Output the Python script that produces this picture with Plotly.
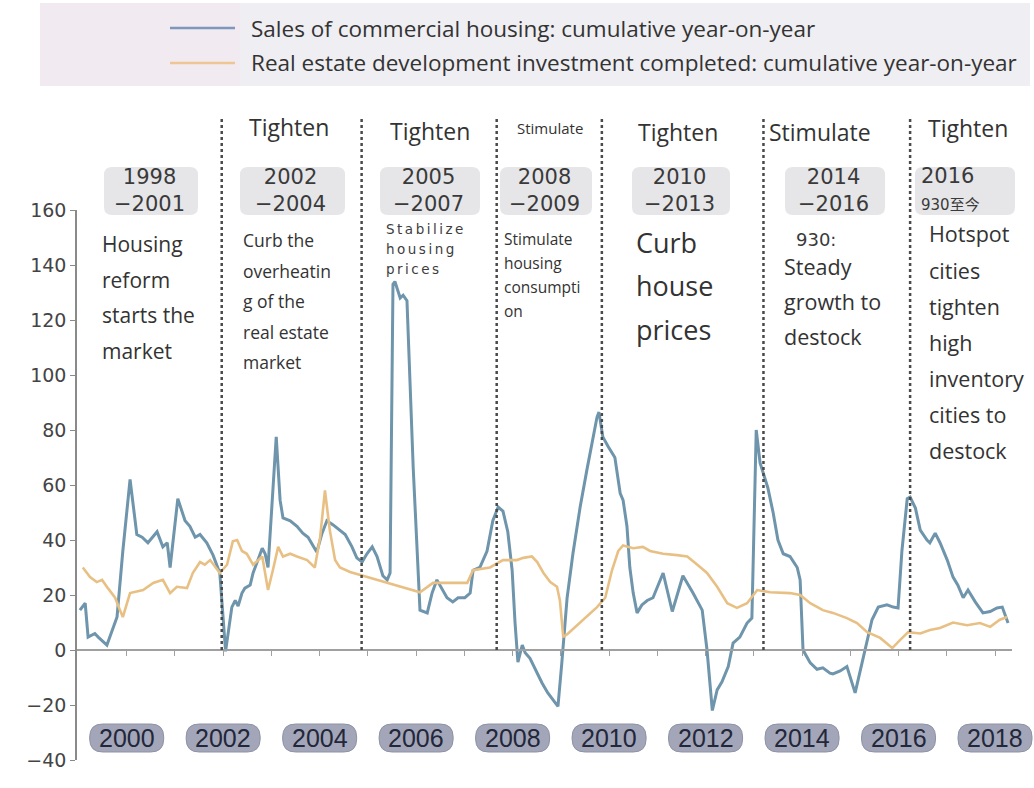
import plotly.graph_objects as go

# Cumulative year-on-year growth (%), sampled at turning points (decimal years)
sales_t = [1999.03, 1999.14, 1999.20, 1999.34, 1999.41, 1999.59, 1999.80, 1999.86, 1999.92,
           2000.07, 2000.21, 2000.32, 2000.44, 2000.63, 2000.75, 2000.84, 2000.90, 2001.06,
           2001.21, 2001.31, 2001.42, 2001.52, 2001.66, 2001.79, 2001.93, 2002.05, 2002.18,
           2002.25, 2002.31, 2002.39, 2002.45, 2002.56, 2002.62, 2002.72, 2002.81, 2002.87,
           2002.93, 2003.10, 2003.18, 2003.24, 2003.39, 2003.53, 2003.65, 2003.76, 2003.86,
           2003.94, 2004.05, 2004.15, 2004.28, 2004.42, 2004.53, 2004.67, 2004.77, 2004.88,
           2004.98, 2005.09, 2005.19, 2005.31, 2005.40, 2005.46, 2005.52, 2005.56, 2005.67,
           2005.73, 2005.81, 2005.94, 2006.08, 2006.23, 2006.33, 2006.43, 2006.54, 2006.64,
           2006.76, 2006.87, 2007.01, 2007.12, 2007.18, 2007.32, 2007.47, 2007.59, 2007.70,
           2007.80, 2007.90, 2007.99, 2008.05, 2008.11, 2008.20, 2008.26, 2008.36, 2008.47,
           2008.61, 2008.73, 2008.88, 2008.94, 2009.02, 2009.13, 2009.25, 2009.40, 2009.54,
           2009.65, 2009.75, 2009.79, 2009.87, 2009.98, 2010.12, 2010.23, 2010.29, 2010.37,
           2010.43, 2010.50, 2010.58, 2010.68, 2010.79, 2010.91, 2011.01, 2011.12, 2011.31,
           2011.53, 2011.74, 2011.93, 2012.03, 2012.14, 2012.24, 2012.34, 2012.47, 2012.57,
           2012.71, 2012.86, 2012.96, 2013.05, 2013.13, 2013.23, 2013.29, 2013.40, 2013.50,
           2013.61, 2013.75, 2013.90, 2013.96, 2014.02, 2014.17, 2014.31, 2014.43, 2014.58,
           2014.64, 2014.79, 2014.93, 2015.10, 2015.24, 2015.35, 2015.45, 2015.58, 2015.76,
           2015.89, 2015.99, 2016.07, 2016.18, 2016.24, 2016.35, 2016.45, 2016.59, 2016.65,
           2016.76, 2016.86, 2017.01, 2017.13, 2017.23, 2017.34, 2017.44, 2017.59, 2017.75,
           2017.90, 2018.04, 2018.15, 2018.27]
sales_v = [14.5, 17, 4.7, 6, 4.7, 1.8, 12, 24, 36,
           62, 42, 41, 39, 43, 37.5, 39, 30, 55,
           47, 45, 41, 42, 39, 34.5, 28, -0.5, 15.6,
           18, 16, 20.7, 22.5, 23.6, 28, 32.7, 37, 35,
           30, 77.5, 54.5, 48, 47, 45, 42.5, 41, 38,
           35.6, 42.5, 47, 45.5, 43.6, 42, 37.5, 33.5, 32,
           35, 37.5, 34, 27, 25.5, 28, 133, 134, 128,
           129, 127, 66, 14.5, 13.5, 20.7, 25.5, 22, 19,
           17.5, 19, 19, 20.7, 29, 30, 36, 47, 52,
           50.5, 43, 29, 10, -4.4, 1.8, -1, -3, -7,
           -12, -15.6, -19, -20.5, -4.7, 19, 35, 52, 65.5,
           75, 84.7, 86.5, 77.5, 74, 70, 57, 54.5, 45,
           30, 20.7, 13.5, 16.4, 18, 19, 23, 28, 14,
           27, 20.7, 14.5, 0, -22, -14.5, -11.6, -6, 2.5,
           4.7, 9.8, 11.6, 80, 68, 62, 59, 50, 40,
           35, 34, 30, 25.5, 0, -4.7, -7, -6.5, -8.4,
           -8.7, -7.6, -6, -15.6, -4.7, 3.6, 11, 15.6, 16.4,
           15.6, 15.3, 36, 55, 55.6, 51.6, 43.6, 40, 39,
           42.5, 39, 32.7, 26.5, 23.6, 19, 21.8, 17.5, 13.5,
           14, 15.3, 15.6, 9.8]

invest_t = [1999.09, 1999.24, 1999.38, 1999.49, 1999.61, 1999.76, 1999.86, 1999.92, 2000.07,
            2000.34, 2000.55, 2000.75, 2000.90, 2001.04, 2001.25, 2001.37, 2001.52, 2001.62,
            2001.73, 2001.93, 2002.08, 2002.20, 2002.29, 2002.39, 2002.49, 2002.62, 2002.81,
            2002.93, 2003.03, 2003.14, 2003.24, 2003.39, 2003.53, 2003.74, 2003.90, 2004.01,
            2004.11, 2004.21, 2004.32, 2004.42, 2004.63, 2004.90, 2005.19, 2005.40, 2005.67,
            2005.87, 2006.08, 2006.35, 2006.64, 2007.06, 2007.18, 2007.53, 2007.80, 2008.09,
            2008.22, 2008.40, 2008.51, 2008.64, 2008.78, 2008.92, 2008.98, 2009.05, 2009.15,
            2009.34, 2009.54, 2009.75, 2009.92, 2010.06, 2010.19, 2010.29, 2010.50, 2010.70,
            2010.85, 2011.12, 2011.41, 2011.62, 2011.83, 2012.03, 2012.24, 2012.45, 2012.65,
            2012.86, 2013.07, 2013.34, 2013.75, 2013.96, 2014.17, 2014.43, 2014.64, 2014.93,
            2015.14, 2015.35, 2015.62, 2015.87, 2016.03, 2016.20, 2016.45, 2016.65, 2016.86,
            2017.13, 2017.42, 2017.69, 2017.90, 2018.10, 2018.25]
invest_v = [30, 26.5, 24.7, 25.5, 22.5, 19, 14.5, 12, 20.7,
            21.8, 24.4, 25.5, 20.7, 23, 22.5, 28, 32, 31,
            32.7, 28, 31, 39.5, 40, 36, 35, 31, 34,
            21.8, 29, 37.5, 34, 35, 34, 32.7, 30, 41,
            58, 43.6, 32.7, 30, 28.4, 27, 25.5, 24.4, 23,
            22, 21, 24.4, 24.4, 24.4, 29, 30, 32.7, 32.7,
            33.5, 34, 32, 28, 24.7, 23, 18, 4.7, 6,
            9, 12, 15.6, 19, 29, 36, 38, 37, 37.5,
            36, 35, 34.5, 34, 31, 28, 23, 17, 15.3,
            17, 21.8, 21, 20.7, 20, 17, 14.5, 13.5, 11.6,
            9.8, 6.5, 4.4, 0.7, 3.6, 6.5, 6, 7.3, 8,
            10, 9, 9.8, 8.4, 11, 12]

sales_name = "Sales of commercial housing: cumulative year-on-year"
invest_name = "Real estate development investment completed: cumulative year-on-year"

# Policy regime boundaries and the stance of each following regime
policy_breaks = [2001.97, 2004.87, 2007.67, 2009.85, 2013.20, 2016.24]
stances = ["Tighten", "Tighten", "Stimulate", "Tighten", "Stimulate", "Tighten"]
periods = [("1998", "−2001"), ("2002", "−2004"), ("2005", "−2007"), ("2008", "−2009"),
           ("2010", "−2013"), ("2014", "−2016"), ("2016", "930至今")]

year_labels = [2000, 2002, 2004, 2006, 2008, 2010, 2012, 2014, 2016, 2018]
y_ticks = [-40, -20, 0, 20, 40, 60, 80, 100, 120, 140, 160]

# ---- page geometry -------------------------------------------------------
W, H = 1034, 788
L, R, T, B = 77, 22, 210, 28
X_RANGE = [1998.97, 2018.352]
Y_RANGE = [-40, 160]
PW, PH = W - L - R, H - T - B

def fx(p):
    return (p - L) / PW

def fy(p):
    return (H - B - p) / PH

def year_pos(yr):
    return (yr - X_RANGE[0]) / (X_RANGE[1] - X_RANGE[0])

def val_pos(v):
    return (v - Y_RANGE[0]) / (Y_RANGE[1] - Y_RANGE[0])

TEXT_FONT = "Open Sans, Lato, sans-serif"
NUM_FONT = "DejaVu Sans, sans-serif"
INK = "#333333"
BLUE = "#6e95ab"
GOLD = "#e8c084"

fig = go.Figure()
fig.add_trace(go.Scatter(x=sales_t, y=sales_v, mode="lines", name=sales_name,
                         line=dict(color=BLUE, width=3), showlegend=False))
fig.add_trace(go.Scatter(x=invest_t, y=invest_v, mode="lines", name=invest_name,
                         line=dict(color=GOLD, width=2.6), showlegend=False))

shapes = []
ann = []

def rounded(x0, y0, x1, y1, r, fill, line=None):
    rx, ry = r / PW, r / PH
    X0, X1, Y0, Y1 = fx(x0), fx(x1), fy(y1), fy(y0)
    path = (f"M {X0+rx},{Y0} L {X1-rx},{Y0} Q {X1},{Y0} {X1},{Y0+ry} "
            f"L {X1},{Y1-ry} Q {X1},{Y1} {X1-rx},{Y1} L {X0+rx},{Y1} "
            f"Q {X0},{Y1} {X0},{Y1-ry} L {X0},{Y0+ry} Q {X0},{Y0} {X0+rx},{Y0} Z")
    shapes.append(dict(type="path", path=path, xref="paper", yref="paper",
                       fillcolor=fill, line=dict(color=line or fill, width=1 if line else 0),
                       layer="below"))

def text(s, x, y, size, font=TEXT_FONT, color=INK, xanchor="left", align="left"):
    ann.append(dict(text=s, x=fx(x), y=fy(y), xref="paper", yref="paper",
                    xanchor=xanchor, yanchor="middle", showarrow=False, align=align,
                    borderpad=0, font=dict(family=font, size=size, color=color)))

# ---- legend band ---------------------------------------------------------
shapes.append(dict(type="rect", xref="paper", yref="paper", x0=fx(40), x1=fx(1030),
                   y0=fy(86), y1=fy(3), fillcolor="#efeef2", line=dict(width=0), layer="below"))
shapes.append(dict(type="rect", xref="paper", yref="paper", x0=fx(40), x1=fx(240),
                   y0=fy(86), y1=fy(3), fillcolor="#f1eaf0", line=dict(width=0), layer="below"))
for name, color, yy in [(sales_name, "#7d98bd", 28), (invest_name, "#efc593", 63)]:
    shapes.append(dict(type="line", xref="paper", yref="paper", x0=fx(170), x1=fx(235),
                       y0=fy(yy), y1=fy(yy), line=dict(color=color, width=2.5)))
    text(name, 250, yy, 22.5)

# ---- regime separators ---------------------------------------------------
for brk in policy_breaks:
    shapes.append(dict(type="line", xref="paper", yref="paper", x0=year_pos(brk), x1=year_pos(brk),
                       y0=val_pos(0), y1=fy(118), line=dict(color="#4a4a4a", width=2.5, dash="dot")))

# ---- stance labels -------------------------------------------------------
stance_pos = [(289, 127, 23), (430, 131, 23), (550, 128, 15), (678, 132, 23), (820, 132, 23), (968, 128, 23)]
for s, (cx, cy, sz) in zip(stances, stance_pos):
    text(s, cx, cy, sz, xanchor="center")

# ---- period boxes --------------------------------------------------------
period_box = [(104, 198), (240, 345), (380, 480), (500, 592), (632, 730), (785, 885), (915, 1015)]
for (a, b), (bx0, bx1) in zip(periods, period_box):
    rounded(bx0, 167, bx1, 215, 8, "#e6e6e9")
    if b.endswith("至今"):
        label = f'{a}<br><span style="font-size:15px;font-family:DejaVu Sans, Noto Sans CJK SC">{b}</span>'
        text(label, bx0 + 5, 189, 21, font=NUM_FONT, color="#3a3a3a", align="left")
    else:
        text(f"{a}<br>{b}", (bx0 + bx1) / 2 - 2, 190, 21, font=NUM_FONT, color="#3a3a3a",
             xanchor="center", align="center")

# ---- regime descriptions -------------------------------------------------
blocks = [
    (101, 244, 35.7, 21, TEXT_FONT, ["Housing", "reform", "starts the", "market"]),
    (242, 240, 30.5, 17.5, TEXT_FONT, ["Curb the", "overheatin", "g of the", "real estate", "market"]),
    (385, 229, 20, 13.5, NUM_FONT, ["Stabilize", "housing", "prices"]),
    (503, 239, 24, 15.5, TEXT_FONT, ["Stimulate", "housing", "consumpti", "on"]),
    (635, 242, 43.5, 27, TEXT_FONT, ["Curb", "house", "prices"]),
    (783, 266, 35, 21.5, TEXT_FONT, ["Steady", "growth to", "destock"]),
    (928, 234, 36, 21.5, TEXT_FONT, ["Hotspot", "cities", "tighten", "high", "inventory", "cities to", "destock"]),
]
for x0, y0, step, sz, font, lines in blocks:
    for i, ln in enumerate(lines):
        s = ln
        if font == NUM_FONT:
            s = f'<span style="letter-spacing:2.5px">{ln}</span>'
        text(s, x0, y0 + i * step, sz, font=font, color="#3d3d3d" if font == NUM_FONT else INK)
text("930:", 795, 239, 18, font=NUM_FONT, color="#3a3a3a")

# ---- year pills ----------------------------------------------------------
for yr in year_labels:
    cxp = L + year_pos(yr) * PW
    rounded(cxp - 37, 724, cxp + 37, 752, 13, "#a2a6b8", "#8e92a6")
    ann.append(dict(text=str(yr), x=year_pos(yr), y=fy(738), xref="paper", yref="paper",
                    xanchor="center", yanchor="middle", showarrow=False,
                    font=dict(family="Liberation Sans Narrow, Liberation Sans, sans-serif",
                              size=25, color="#22273a")))

fig.update_layout(
    width=W, height=H,
    margin=dict(l=L, r=R, t=T, b=B),
    paper_bgcolor="white", plot_bgcolor="rgba(0,0,0,0)",
    shapes=shapes, annotations=ann,
    xaxis=dict(range=X_RANGE, anchor="free", position=val_pos(0),
               showgrid=False, zeroline=False, showline=True, linecolor="#a0a0a0", linewidth=2,
               ticks="outside", ticklen=5, tickwidth=1.2, tickcolor="#a0a0a0",
               tickvals=list(range(2000, 2019)), showticklabels=False),
    yaxis=dict(range=Y_RANGE, showgrid=False, zeroline=False, showline=True,
               linecolor="#8a8a8a", linewidth=1.5, ticks="outside", ticklen=5,
               tickcolor="#8a8a8a", tickvals=y_ticks,
               tickfont=dict(family=NUM_FONT, size=19, color="#444444")),
)

fig.write_html("out.html")
